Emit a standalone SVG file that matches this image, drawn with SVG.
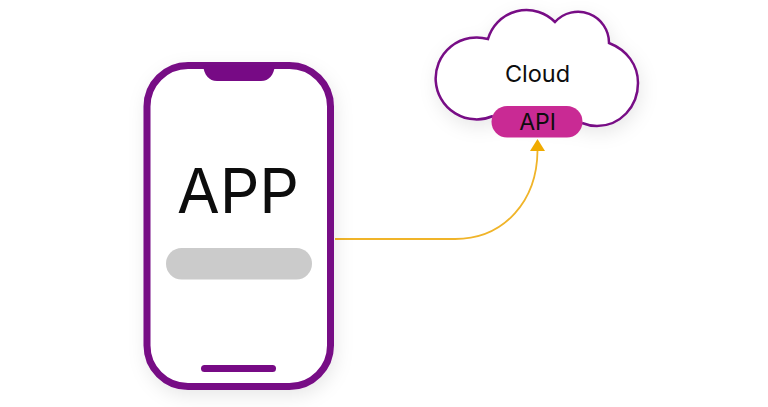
<svg xmlns="http://www.w3.org/2000/svg" width="768" height="407" viewBox="0 0 768 407">
<style>
text{font-family:"Inter","Noto Sans",sans-serif;fill:#0d0d0d;text-anchor:middle}
.pur{fill:#770a85}
</style>
<defs>
<filter id="sh" x="-20%" y="-20%" width="140%" height="140%"><feDropShadow dx="2" dy="6" stdDeviation="9" flood-color="#000" flood-opacity="0.09"/></filter>
<marker id="arr" markerUnits="userSpaceOnUse" markerWidth="16" markerHeight="13" refX="8" refY="12.500" orient="0"><path d="M0.500 12.500L8 0.500L15.500 12.500Z" fill="#f0ab00"/></marker>
</defs>
<rect width="768" height="407" fill="#fff"/>
<g id="connectors"><path d="M335 239H455C505 239 537 200 537.500 151" fill="none" stroke="#f0b429" stroke-width="1.800" marker-end="url(#arr)"/></g>
<g id="phone">
<rect x="147" y="65.500" width="183.500" height="321" rx="41" fill="#fff" stroke="#770a85" stroke-width="7" filter="url(#sh)"/>
<path class="pur" d="M203 65H275C274 75 269 81 261 81H217C209 81 204 75 203 65Z"/>
<text x="238" y="212.500" font-size="62">APP</text>
<rect x="166" y="248" width="146" height="31.500" rx="15.700" fill="#cbcbcb"/>
<rect x="201" y="365" width="75" height="7" rx="3.500" class="pur"/>
</g>
<g id="cloud">
<path d="M493 116A41 41 0 1 1 488 39A40 40 0 0 1 555 22A31 31 0 0 1 609 43C627 50 638 65 638 83C638 107 620 126 597 126C592 126 587 125 582 123" fill="#fff" stroke="#770a85" stroke-width="2.500" filter="url(#sh)"/>
<text x="537.500" y="81.500" font-size="23.500">Cloud</text>
</g>
<g id="api">
<rect x="491.500" y="106" width="91" height="31.500" rx="15.700" fill="#c92a94"/>
<text x="537.500" y="130" font-size="23">API</text>
</g>
</svg>
